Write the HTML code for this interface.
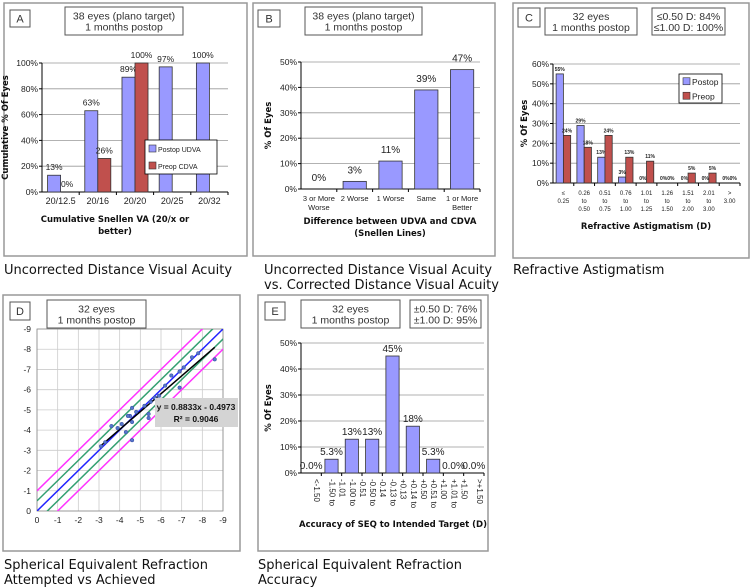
<!DOCTYPE html>
<html><head><meta charset="utf-8">
<style>
body{margin:0;background:#fff;}
svg{display:block;font-family:"Liberation Sans","DejaVu Sans",sans-serif;}
.cap{font-family:"DejaVu Sans","Liberation Sans",sans-serif;font-size:13px;fill:#111;}
.t{font-size:9px;fill:#222;}
.bt{font-size:8.5px;font-weight:bold;fill:#111;font-family:"DejaVu Sans",sans-serif;}
</style></head>
<body>
<svg id="s" width="753" height="587" viewBox="0 0 753 587" xmlns="http://www.w3.org/2000/svg">
</svg>
<script>
// Panel A data
const aCats=["20/12.5","20/16","20/20","20/25","20/32"];
const aPostop=[13,63,89,97,100];
const aPreop=[0,26,100,null,null];
const aYTicks=[0,20,40,60,80,100];
// Panel B data
const bCats=[["3 or More","Worse"],["2 Worse"],["1 Worse"],["Same"],["1 or More","Better"]];
const bVals=[0,3,11,39,47];
const bYTicks=[0,10,20,30,40,50];
// Panel C data
const cCats=[["≤","0.25"],["0.26","to","0.50"],["0.51","to","0.75"],["0.76","to","1.00"],["1.01","to","1.25"],["1.26","to","1.50"],["1.51","to","2.00"],["2.01","to","3.00"],[">","3.00"]];
const cPostop=[55,29,13,3,0,0,0,0,0];
const cPreop=[24,18,24,13,11,0,5,5,0];
const cYTicks=[0,10,20,30,40,50,60];
// Panel D data
const dAtt=[-3.1,-3.3,-3.6,-3.9,-4.1,-4.3,-4.5,-4.6,-4.6,-4.6,-4.8,-5.2,-5.4,-5.4,-5.5,-5.7,-6.2,-6.5,-6.9,-6.9,-7.1,-7.5,-7.8,-8.6,-4.4,-5.9,-6.0];
const dAch=[-3.2,-3.4,-4.2,-4.1,-4.3,-3.9,-4.7,-4.4,-5.1,-3.5,-4.9,-5.2,-4.6,-4.8,-5.4,-5.6,-6.2,-6.7,-6.1,-6.9,-7.1,-7.6,-7.8,-7.5,-4.7,-5.7,-5.5];
const dTicks=[0,-1,-2,-3,-4,-5,-6,-7,-8,-9];
const dSlope=0.8833, dIntercept=-0.4973;
// Panel E data
const eCats=[["<-1.50"],["-1.50 to","-1.01"],["-1.00 to","-0.51"],["-0.50 to","-0.14"],["-0.13 to","+0.13"],["+0.14 to","+0.50"],["+0.51 to","+1.00"],["+1.01 to","+1.50"],[">+1.50"]];
const eVals=[0,5.3,13,13,45,18,5.3,0,0];
const eLabels=["0.0%","5.3%","13%","13%","45%","18%","5.3%","0.0%","0.0%"];
const eYTicks=[0,10,20,30,40,50];

const S=document.getElementById('s');
const NS="http://www.w3.org/2000/svg";
function mk(tag,attrs,parent,txt){const e=document.createElementNS(NS,tag);for(const k in attrs)e.setAttribute(k,attrs[k]);if(txt!==undefined)e.textContent=txt;(parent||S).appendChild(e);return e;}
const BLUE="#9999ff",RED="#c0504d";

function frame(x,y,w,h,name){const r=mk('rect',{x:x,y:y,width:w,height:h,fill:'none',stroke:'#999','stroke-width':1.5});

}
function box(x,y,w,h,lines,name,fs){const g=mk('g',{});


mk('rect',{x:x,y:y,width:w,height:h,fill:'#fff',stroke:'#555','stroke-width':1},g);
lines.forEach((l,i)=>mk('text',{x:x+w/2,y:y+h/2+(i-(lines.length-1)/2)*11+4,'text-anchor':'middle','font-size':fs||10.5,fill:'#333'},g,l));}
function caption(x,y,lines,name){const g=mk('g',{});


lines.forEach((l,i)=>mk('text',{x:x,y:y+i*15,class:'cap'},g,l));}

function barChart(c){
  const g=mk('g',{});
  
  
  const yS=v=>c.y1-(v/c.ymax)*(c.y1-c.y0);
  const n=c.cats.length, cw=(c.x1-c.x0)/n;
  c.yTicks.forEach(t=>{
    if(t>0)mk('line',{x1:c.x0,x2:c.x1,y1:yS(t),y2:yS(t),stroke:'#999','stroke-width':0.8},g);
    const tl=mk('text',{x:c.x0-4,y:yS(t)+3,'text-anchor':'end','font-size':c.tfs||9,fill:'#222'},g,t+'%');
    
    
    mk('line',{x1:c.x0-3,x2:c.x0,y1:yS(t),y2:yS(t),stroke:'#000'},g);
  });
  mk('line',{x1:c.x0,x2:c.x0,y1:c.y0,y2:c.y1,stroke:'#000'},g);
  mk('line',{x1:c.x0,x2:c.x1,y1:c.y1,y2:c.y1,stroke:'#000'},g);
  const ns=c.series.length;
  c.series.forEach((s,si)=>{
    s.vals.forEach((v,i)=>{
      if(v===null)return;
      const bx=c.x0+i*cw+cw*c.gap/2+si*(cw*(1-c.gap)/ns);
      const bw=cw*(1-c.gap)/ns;
      const r=mk('rect',{x:bx,y:yS(v),width:bw,height:c.y1-yS(v),fill:s.color,stroke:'#333','stroke-width':0.8},g);
      
      
      const lab=s.labels?s.labels[i]:Math.round(v)+'%';
      const lt=mk('text',{x:bx+bw/2,y:yS(v)-(c.lblOff||5),'text-anchor':'middle','font-size':c.lfs||9,fill:'#222','font-weight':c.lbold?'bold':'normal'},g,lab);
      
      
    });
  });
  c.cats.forEach((cat,i)=>{
    const cx=c.x0+(i+0.5)*cw;
    mk('line',{x1:c.x0+(i+1)*cw,x2:c.x0+(i+1)*cw,y1:c.y1,y2:c.y1+3,stroke:'#000'},g);
    const lines=Array.isArray(cat)?cat:[cat];
    lines.forEach((l,j)=>{
      let t;
      if(c.rot){t=mk('text',{x:0,y:0,transform:`translate(${cx+(j-(lines.length-1)/2)*10+3},${c.y1+6}) rotate(90)`,'font-size':c.xfs||9,fill:'#222'},g,l);}
      else t=mk('text',{x:cx,y:c.y1+12+j*(c.xlh||9),'text-anchor':'middle','font-size':c.xfs||9,fill:'#222'},g,l);
      
      
    });
  });
  const yt=mk('text',{x:0,y:0,transform:`translate(${c.x0-c.ytOff},${(c.y0+c.y1)/2}) rotate(-90)`,'text-anchor':'middle',class:'bt'},g,c.yTitle);
  
  
  c.xTitle.forEach((l,j)=>{const t=mk('text',{x:c.xtX,y:c.xtY+j*12,'text-anchor':'middle',class:'bt'},g,l);
  
  });
  return g;
}
function legend(x,y,w,h,items,name,fs){const g=mk('g',{});


mk('rect',{x:x,y:y,width:w,height:h,fill:'#fff',stroke:'#000','stroke-width':0.8},g);
items.forEach((it,i)=>{const yy=y+h*(i+0.5)/items.length;
mk('rect',{x:x+4,y:yy-3.5,width:7,height:7,fill:it.c,stroke:'#333','stroke-width':0.6},g);
const t=mk('text',{x:x+13,y:yy+3.5,'font-size':fs||8,fill:'#222'},g,it.t);

});}

// ---- Panel A
frame(4,3,243,253,'panel-a-frame');
box(10,10,20,17,["A"],'panel-a-letter',11);
box(65,7,118,28,["38 eyes (plano target)","1 months postop"],'panel-a-title');
barChart({name:'panel-a-chart',x0:42,x1:228,y0:63,y1:192,ymax:100,yTicks:aYTicks,cats:aCats,gap:0.3,
 series:[{key:'postop',vals:aPostop,color:BLUE},{key:'preop',vals:aPreop,color:RED}],
 yTitle:'Cumulative % Of Eyes',ytOff:34,xTitle:['Cumulative Snellen VA (20/x or','better)'],xtX:115,xtY:222,lfs:8.5,tfs:8.5});
legend(145,140,72,34,[{c:BLUE,t:'Postop UDVA'},{c:RED,t:'Preop CDVA'}],'panel-a-legend',7);
caption(4,274,["Uncorrected Distance Visual Acuity"],'panel-a-caption');

// ---- Panel B
frame(253,3,242,253,'panel-b-frame');
box(258,10,22,17,["B"],'panel-b-letter',11);
box(305,7,117,28,["38 eyes (plano target)","1 months postop"],'panel-b-title');
barChart({name:'panel-b-chart',x0:301,x1:480,y0:62,y1:189,ymax:50,yTicks:bYTicks,cats:bCats,gap:0.35,
 series:[{key:'diff',vals:bVals,color:BLUE}],
 yTitle:'% Of Eyes',ytOff:30,xTitle:['Difference between  UDVA and CDVA','(Snellen Lines)'],xtX:390,xtY:224,lfs:10,tfs:8.5,xfs:7.5,lblOff:8});
caption(264,274,["Uncorrected Distance Visual Acuity"," vs. Corrected Distance Visual Acuity"],'panel-b-caption');

// ---- Panel C
frame(513,3,236,255,'panel-c-frame');
box(518,8,22,19,["C"],'panel-c-letter',11);
box(545,8,92,27,["32 eyes","1 months postop"],'panel-c-title');
box(652,8,73,27,["≤0.50 D: 84%","≤1.00 D: 100%"],'panel-c-stats');
barChart({name:'panel-c-chart',x0:553,x1:740,y0:64,y1:183,ymax:60,yTicks:cYTicks,cats:cCats,gap:0.3,
 series:[{key:'postop',vals:cPostop,color:BLUE},{key:'preop',vals:cPreop,color:RED}],
 yTitle:'% Of Eyes',ytOff:26,xTitle:['Refractive Astigmatism (D)'],xtX:646,xtY:229,lfs:5,lbold:true,lblOff:3,tfs:8.5,xfs:6,xlh:8});
legend(679,74,43,29,[{c:BLUE,t:'Postop'},{c:RED,t:'Preop'}],'panel-c-legend',8.5);
caption(513,274,["Refractive Astigmatism"],'panel-c-caption');

// ---- Panel D
frame(3,295,237,256,'panel-d-frame');
box(10,302,20,18,["D"],'panel-d-letter',11);
box(47,300,99,28,["32 eyes","1 months postop"],'panel-d-title');
(function(){
 const g=mk('g',{});
 
 
 const x0=37,x1=223,y0=329,y1=511;
 const xS=v=>x0+(v/-9)*(x1-x0), yS=v=>y1-(v/-9)*(y1-y0);
 dTicks.forEach(t=>{
  mk('line',{x1:xS(t),x2:xS(t),y1:y0,y2:y1,stroke:'#ccc','stroke-width':0.8},g);
  mk('line',{x1:x0,x2:x1,y1:yS(t),y2:yS(t),stroke:'#ccc','stroke-width':0.8},g);
  const a=mk('text',{x:xS(t),y:y1+12,'text-anchor':'middle','font-size':8.5,fill:'#222'},g,t);
  
  
  const b=mk('text',{x:x0-6,y:yS(t)+3,'text-anchor':'end','font-size':8.5,fill:'#222'},g,t);
  
  
 });
 mk('rect',{x:x0,y:y0,width:x1-x0,height:y1-y0,fill:'none',stroke:'#888','stroke-width':0.8},g);
 const clip=mk('clipPath',{id:'dclip'},g);mk('rect',{x:x0,y:y0,width:x1-x0,height:y1-y0},clip);
 const lines=[{o:1,c:'#ff33ff'},{o:-1,c:'#ff33ff'},{o:0.5,c:'#33a070'},{o:-0.5,c:'#33a070'},{o:0,c:'#2222ff'}];
 lines.forEach(L=>{const l=mk('line',{x1:xS(0),y1:yS(-L.o),x2:xS(-12),y2:yS(-12-L.o),stroke:L.c,'stroke-width':1.5,'clip-path':'url(#dclip)'},g);
  
  });
 const xmin=Math.max(...dAtt), xmax=Math.min(...dAtt);
 const rl=mk('line',{x1:xS(xmin),y1:yS(dSlope*xmin+dIntercept),x2:xS(xmax),y2:yS(dSlope*xmax+dIntercept),stroke:'#000','stroke-width':1.5},g);
 
 
 dAtt.forEach((a,i)=>{const p=mk('circle',{cx:xS(a),cy:yS(dAch[i]),r:1.8,fill:'#5577cc',stroke:'#334499','stroke-width':0.5},g);
  
  });
 const eq=mk('g',{},g);
 
 
 mk('rect',{x:155,y:398,width:83,height:29,fill:'#d4d4d4'},eq);
 mk('text',{x:196,y:410,'text-anchor':'middle','font-size':8.5,'font-weight':'bold',fill:'#111'},eq,'y = '+dSlope.toFixed(4)+'x - '+(-dIntercept).toFixed(4));
 mk('text',{x:196,y:422,'text-anchor':'middle','font-size':8.5,'font-weight':'bold',fill:'#111'},eq,'R² = 0.9046');
})();
caption(4,569,["Spherical Equivalent Refraction","Attempted vs Achieved"],'panel-d-caption');

// ---- Panel E
frame(258,295,230,256,'panel-e-frame');
box(265,302,20,18,["E"],'panel-e-letter',11);
box(301,300,99,28,["32 eyes","1 months postop"],'panel-e-title');
box(410,300,71,28,["±0.50 D: 76%","±1.00 D: 95%"],'panel-e-stats');
barChart({name:'panel-e-chart',x0:301,x1:484,y0:343,y1:473,ymax:50,yTicks:eYTicks,cats:eCats,gap:0.35,
 series:[{key:'accuracy',vals:eVals,color:BLUE,labels:eLabels}],
 yTitle:'% Of Eyes',ytOff:30,xTitle:['Accuracy of SEQ to Intended Target (D)'],xtX:393,xtY:527,lfs:10,tfs:8.5,xfs:8,rot:true,lblOff:4});
caption(258,569,["Spherical Equivalent Refraction","Accuracy"],'panel-e-caption');
</script>
</body></html>
